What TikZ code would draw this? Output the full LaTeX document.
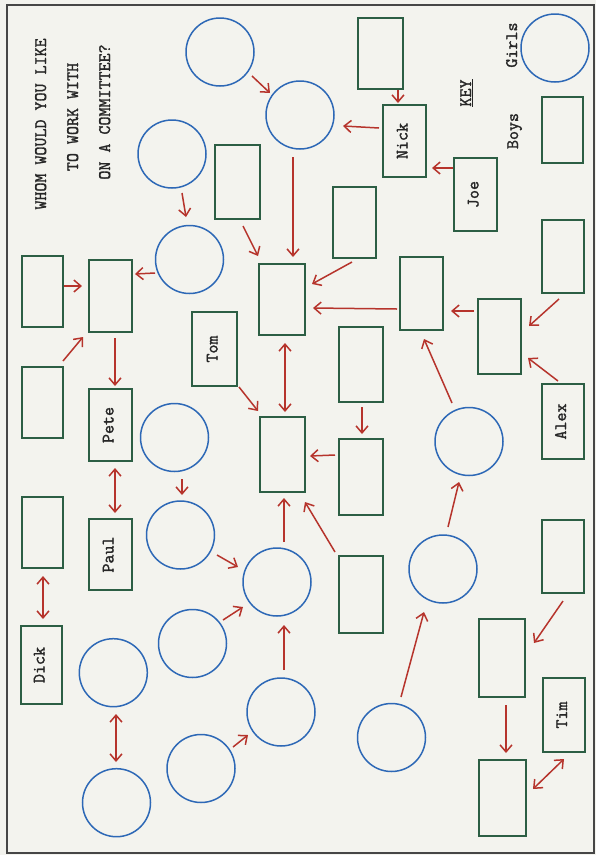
\documentclass[tikz,border=0pt]{standalone}
\usepackage{fontspec}
\newfontfamily\typed{Latin Modern Mono}[FakeBold=1.6]
\usetikzlibrary{arrows.meta}

\definecolor{paper}{RGB}{243,243,238}
\definecolor{framegray}{RGB}{70,70,70}
\definecolor{girlblue}{RGB}{45,104,182}
\definecolor{boygreen}{RGB}{44,94,68}
\definecolor{arrowred}{RGB}{182,52,44}
\definecolor{ink}{RGB}{38,38,38}

\tikzset{
  girl/.style={circle, draw=girlblue, line width=1.5pt, inner sep=0pt, minimum size=68pt},
  boy/.style 2 args={rectangle, draw=boygreen, line width=1.2pt, inner sep=0pt,
    minimum width=#1pt, minimum height=#2pt},
  typed/.style={text=ink, inner sep=0pt, rotate=90, text height=0.6em, text depth=0pt,
    font=\typed\fontsize{17.5}{17.5}\selectfont},
  arr/.style={draw=arrowred, line width=1.5pt, -{Straight Barb[length=7pt,width=12pt]}},
  dbl/.style={draw=arrowred, line width=1.5pt, {Straight Barb[length=7pt,width=12pt]}-{Straight Barb[length=7pt,width=12pt]}}
}

\begin{document}
\begin{tikzpicture}[x=1pt, y=-1pt]
  % paper and frame
  \fill[paper] (0,0) rectangle (596,855);
  \useasboundingbox (0,0) rectangle (596,855);
  \draw[framegray, line width=1.2pt] (7,5) rectangle (594,853);

  % heading
  \node[typed] (head1) at (43,124) {WHOM WOULD YOU LIKE};
  \node[typed] (head2) at (75,117) {TO WORK WITH};
  \node[typed] (head3) at (107,112) {ON A COMMITTEE?};

  % key
  \node[typed] (keyT) at (468,93) {\underline{KEY}};
  \node[typed] (girlsT) at (514,45) {Girls};
  \node[typed] (boysT) at (515,131) {Boys};
  \node[girl] (keyGirl) at (555,48) {};
  \node[boy={41}{66}] (keyBoy) at (562.5,130) {};

  % girls
  \node[girl] (c1) at (220,52) {};
  \node[girl] (c2) at (300,115) {};
  \node[girl] (c3) at (172,154) {};
  \node[girl] (c4) at (189.5,259.5) {};
  \node[girl] (g1) at (174.5,437.5) {};
  \node[girl] (g2) at (180.5,535) {};
  \node[girl] (g3) at (277,582) {};
  \node[girl] (g4) at (192.5,643.5) {};
  \node[girl] (g5) at (281,712) {};
  \node[girl] (g6) at (113.3,672.7) {};
  \node[girl] (g7) at (116.5,802.7) {};
  \node[girl] (g8) at (201,768.5) {};
  \node[girl] (gP) at (469,441.5) {};
  \node[girl] (gQ) at (443,569) {};
  \node[girl] (gR) at (391.5,737.5) {};

  % boys
  \node[boy={45}{71}] (rTop) at (380.5,53.5) {};
  \node[boy={43}{72}] (rNick) at (404.5,141) {};
  \node[boy={43}{73}] (rJoe) at (475.5,194.5) {};
  \node[boy={43}{71}] (rA) at (354.5,222.5) {};
  \node[boy={42}{73}] (rB) at (563,256.5) {};
  \node[boy={43}{73}] (rC) at (421.5,293.5) {};
  \node[boy={43}{75}] (rD) at (499.5,336.5) {};
  \node[boy={42}{75}] (rAlex) at (563,421.5) {};
  \node[boy={44}{75}] (rE) at (361,364.5) {};
  \node[boy={44}{76}] (rF) at (361,477) {};
  \node[boy={44}{77}] (rG) at (361,594.5) {};
  \node[boy={42}{73}] (rH) at (563,556.5) {};
  \node[boy={46}{78}] (rI) at (502,658) {};
  \node[boy={42}{74}] (rTim) at (564,715) {};
  \node[boy={47}{76}] (rJ) at (502.5,798) {};
  \node[boy={41}{71}] (rL1) at (42.5,291.5) {};
  \node[boy={43}{72}] (rL2) at (110.5,296) {};
  \node[boy={41}{71}] (rL3) at (42.5,402.5) {};
  \node[boy={43}{72}] (rPete) at (110.5,425) {};
  \node[boy={45}{74}] (rTom) at (214.5,349) {};
  \node[boy={45}{75}] (rCen) at (282.5,454.5) {};
  \node[boy={46}{71}] (rUp) at (282,299.5) {};
  \node[boy={45}{74}] (rK) at (237.5,182) {};
  \node[boy={41}{71}] (rL4) at (42.5,532.5) {};
  \node[boy={43}{71}] (rPaul) at (110.5,554.5) {};
  \node[boy={41}{78}] (rDick) at (41.5,665) {};

  % names
  \node[typed] (nickT) at (rNick) {Nick};
  \node[typed] (joeT) at (rJoe) {Joe};
  \node[typed] (alexT) at (rAlex) {Alex};
  \node[typed] (timT) at (rTim) {Tim};
  \node[typed] (peteT) at (rPete) {Pete};
  \node[typed] (tomT) at (rTom) {Tom};
  \node[typed] (paulT) at (rPaul) {Paul};
  \node[typed] (dickT) at (rDick) {Dick};

  % choices
  \draw[arr] ([shift={(32,24)}]c1.center) -- ([shift={(-30,-22)}]c2.center);
  \draw[arr] ([shift={(10,39)}]c3.center) -- ([shift={(-3.5,-42.5)}]c4.center);
  \draw[arr] ([shift={(-7,42)}]c2.center) -- ([shift={(11,-42.5)}]rUp.center);
  \draw[arr] ([shift={(5.5,44)}]rK.center) -- ([shift={(-24,-43.5)}]rUp.center);
  \draw[arr] ([shift={(-34.5,13.5)}]c4.center) -- ([shift={(24.5,-22)}]rL2.center);
  \draw[arr] ([shift={(21.5,-5.5)}]rL1.center) -- ([shift={(-28.5,-10)}]rL2.center);
  \draw[arr] ([shift={(17.5,36.5)}]rTop.center) -- ([shift={(-6.5,-38)}]rNick.center);
  \draw[arr] ([shift={(-25.5,-13)}]rNick.center) -- ([shift={(43,11)}]c2.center);
  \draw[arr] ([shift={(-22.5,-26.5)}]rJoe.center) -- ([shift={(27.5,27)}]rNick.center);
  \draw[arr] ([shift={(-2.5,39.5)}]rA.center) -- ([shift={(30,-15.5)}]rUp.center);
  \draw[arr] ([shift={(-4,42.5)}]rB.center) -- ([shift={(29.5,-10.5)}]rD.center);
  \draw[arr] ([shift={(-5,-40.5)}]rAlex.center) -- ([shift={(28.5,21.5)}]rD.center);
  \draw[arr] ([shift={(-25.5,-25.5)}]rD.center) -- ([shift={(29.5,17.5)}]rC.center);
  \draw[arr] ([shift={(-24.5,15.5)}]rC.center) -- ([shift={(31,8.5)}]rUp.center);
  \draw[arr] ([shift={(-17,-38.5)}]gP.center) -- ([shift={(2.5,45.5)}]rC.center);
  \draw[arr] ([shift={(1,42.5)}]rE.center) -- ([shift={(1,-43)}]rF.center);
  \draw[arr] ([shift={(-26,-22)}]rF.center) -- ([shift={(27.5,1.5)}]rCen.center);
  \draw[arr] ([shift={(-26,-42.5)}]rG.center) -- ([shift={(22.5,47.5)}]rCen.center);
  \draw[arr] ([shift={(5,-42)}]gQ.center) -- ([shift={(-10,40.5)}]gP.center);
  \draw[arr] ([shift={(9.5,-40.5)}]gR.center) -- ([shift={(-19,43)}]gQ.center);
  \draw[arr] ([shift={(0,44.5)}]rH.center) -- ([shift={(32,-15)}]rI.center);
  \draw[arr] ([shift={(4,47)}]rI.center) -- ([shift={(3.5,-45)}]rJ.center);
  \draw[dbl] ([shift={(0,44)}]rTim.center) -- ([shift={(30.5,-9)}]rJ.center);
  \draw[arr] ([shift={(4.5,42)}]rL2.center) -- ([shift={(4.5,-39)}]rPete.center);
  \draw[arr] ([shift={(20.5,-41.5)}]rL3.center) -- ([shift={(-27.5,41)}]rL2.center);
  \draw[arr] ([shift={(24.5,38)}]rTom.center) -- ([shift={(-24.5,-43.5)}]rCen.center);
  \draw[dbl] ([shift={(3,43.5)}]rUp.center) -- ([shift={(2.5,-42.5)}]rCen.center);
  \draw[dbl] ([shift={(4.5,43)}]rPete.center) -- ([shift={(4.5,-41.5)}]rPaul.center);
  \draw[arr] ([shift={(7.5,41.5)}]g1.center) -- ([shift={(1.5,-40)}]g2.center);
  \draw[arr] ([shift={(7,-40)}]g3.center) -- ([shift={(1.5,43.5)}]rCen.center);
  \draw[arr] ([shift={(36.5,20)}]g2.center) -- ([shift={(-39,-15)}]g3.center);
  \draw[dbl] ([shift={(0.5,43.5)}]rL4.center) -- ([shift={(1.5,-46)}]rDick.center);
  \draw[arr] ([shift={(30.5,-23.5)}]g4.center) -- ([shift={(-34,25)}]g3.center);
  \draw[arr] ([shift={(3,-42)}]g5.center) -- ([shift={(7,43)}]g3.center);
  \draw[dbl] ([shift={(2.7,41.3)}]g6.center) -- ([shift={(-0.5,-40.7)}]g7.center);
  \draw[arr] ([shift={(32,-21.5)}]g8.center) -- ([shift={(-33,23)}]g5.center);
\end{tikzpicture}
\end{document}
